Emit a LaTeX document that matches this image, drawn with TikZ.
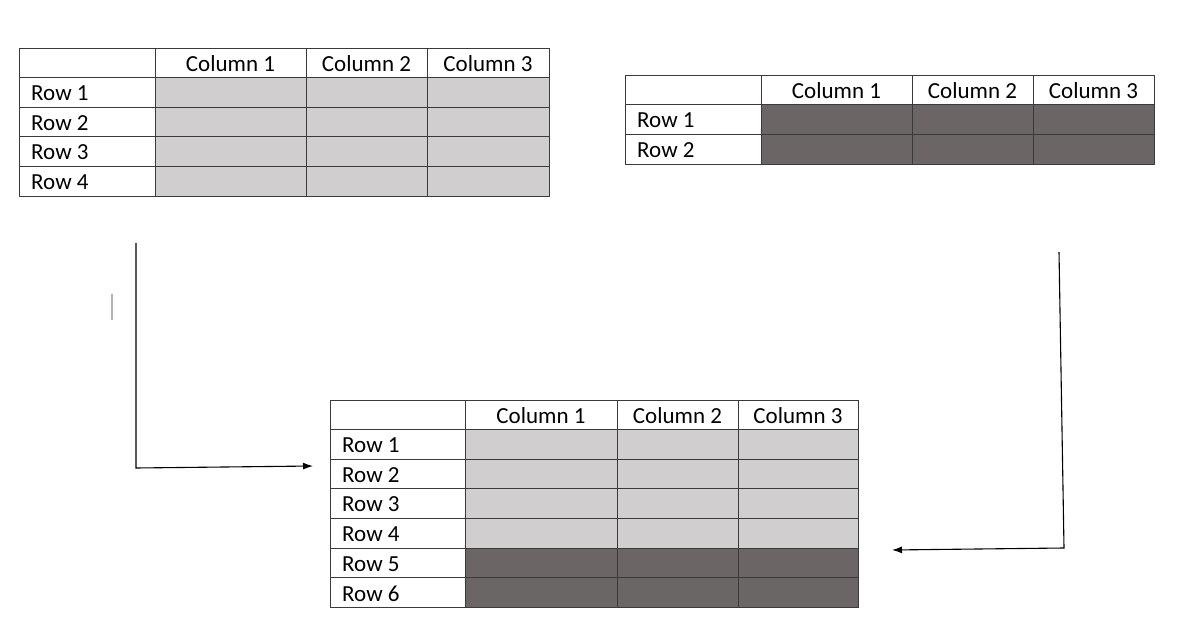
\documentclass[tikz,border=0pt]{standalone}
\usepackage{fontspec}
\setmainfont{Carlito}
\usetikzlibrary{arrows.meta}
\definecolor{lg}{HTML}{D0CECE}
\definecolor{dg}{HTML}{6B6565}
\definecolor{ln}{HTML}{3A3A3A}
\tikzset{x=1pt,y=-1pt,
 grid/.style={draw=ln,line width=0.9pt},
 hdr/.style={font=\fontsize{23}{25}\selectfont,anchor=center,inner sep=0},
 rl/.style={font=\fontsize{23}{25}\selectfont,anchor=west,inner sep=0},
 conn/.style={draw=black,line width=1.1pt},
 arr/.style={conn,-{Latex[length=10pt,width=7pt]}}}
\newcommand{\mytable}[8]{%
 \foreach \lab/\col [count=\i] in {#8}{
   \pgfmathsetmacro{\ya}{#6+\i*#7}\pgfmathsetmacro{\yb}{#6+(\i+1)*#7}
   \fill[\col] (#2,\ya) rectangle (#5,\yb);
   \draw[grid] (#1,\ya) rectangle (#5,\yb);
   \node[rl] at (#1+12,{(\ya+\yb)/2+1}) {\lab};
 }
 \draw[grid] (#1,#6) rectangle (#5,#6+#7);
 \foreach \xa/\xb [count=\k] in {#2/#3,#3/#4,#4/#5}{
   \node[hdr] at ({(\xa+\xb)/2},#6+#7/2+1) {Column \k};
 }
}
\begin{document}
\begin{tikzpicture}
\useasboundingbox[fill=white] (0,0) rectangle (1196,628);
\mytable{19}{155}{306}{427}{549}{48}{29.6}{Row 1/lg,Row 2/lg,Row 3/lg,Row 4/lg}
\foreach \xx in {155,306,427}{\draw[grid] (\xx,48) -- (\xx,196);}
\mytable{625}{761}{912}{1033}{1154}{75}{29.7}{Row 1/dg,Row 2/dg}
\foreach \xx in {761,912,1033}{\draw[grid] (\xx,75) -- (\xx,164);}
\mytable{330}{465}{617}{738}{858}{400}{29.6}{Row 1/lg,Row 2/lg,Row 3/lg,Row 4/lg,Row 5/dg,Row 6/dg}
\foreach \xx in {465,617,738}{\draw[grid] (\xx,400) -- (\xx,607);}
\coordinate (a0) at (136,243);
\coordinate (a1) at (136,468);
\coordinate (a2) at (313,466);
\coordinate (b0) at (1059,252);
\coordinate (b1) at (1064,548);
\coordinate (b2) at (892,550);
\draw[arr] (a0) -- (a1) -- (a2);
\draw[arr] (b0) -- (b1) -- (b2);
\draw[gray!60,line width=1.5pt] (112,294) -- (112,320);
\end{tikzpicture}
\end{document}
